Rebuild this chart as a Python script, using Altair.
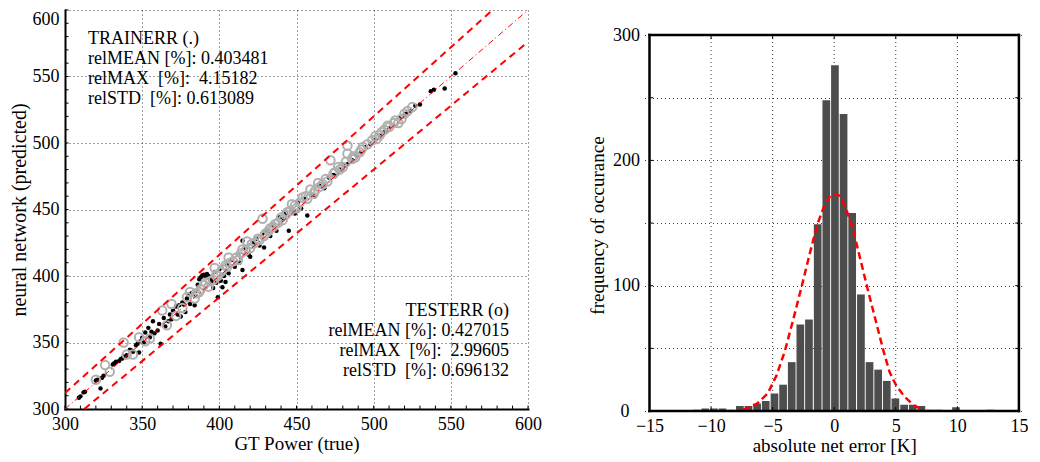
import altair as alt
import pandas as pd

FONT = "Liberation Serif"

# ---------------- left panel data (GT Power: true vs predicted) ----------------
train_true = [309, 310, 312, 313, 320, 321, 323, 324, 325, 331,
              332, 333, 335, 336, 337, 338, 339, 340, 342, 343,
              344, 346, 347, 348, 349, 350, 351, 352, 354, 355,
              356, 357, 358, 360, 361, 362, 364, 365, 367, 368,
              369, 370, 372, 373, 374, 375, 376, 377, 378, 379,
              380, 381, 382, 383, 384, 385, 386, 387, 388, 389,
              390, 391, 392, 393, 394, 395, 396, 397, 398, 399,
              400, 401, 402, 403, 404, 405, 406, 408, 410, 412,
              413, 415, 415, 417, 419, 420, 422, 424, 426, 428,
              429, 431, 433, 435, 437, 439, 441, 443, 445, 447,
              449, 451, 453, 455, 457, 459, 462, 465, 468, 471,
              474, 475, 478, 481, 483, 486, 489, 492, 495, 498,
              501, 504, 507, 510, 513, 517, 520, 521, 524, 527,
              530, 537, 539, 546, 553]
train_pred = [308.5, 309.5, 312.5, 313, 321.5, 322, 315.5, 323.5, 325, 333.5,
              334.5, 335.5, 336, 337.5, 338, 339.5, 339, 340.5, 344.5, 344,
              343, 348, 349, 342.5, 351, 353.5, 350, 357.5, 361, 354,
              358, 366, 357, 359, 364, 349, 368.5, 362, 366, 371,
              367.5, 374, 377, 371, 378, 369.5, 380, 378.5, 373, 383,
              386, 379, 387, 386, 378, 389, 393.5, 397.5, 399, 400.5,
              401, 399.5, 401.5, 400, 398, 396, 391, 403, 395, 384,
              405, 396.5, 391.5, 400, 395.5, 409, 402, 412, 407, 416,
              410, 404.5, 426.5, 421, 416, 414.5, 425, 428, 423, 432,
              421.5, 434, 430, 438, 434, 444, 443, 447, 434, 450,
              447, 455, 451, 458, 445.5, 462, 460, 468, 466, 474,
              476, 475, 480, 483, 484, 487, 491, 493, 497, 499,
              502, 505.5, 508, 511, 513, 519, 521, 522, 524, 528,
              529, 539, 540, 541, 552.5]

test_true = [320, 326, 329, 338, 340, 344, 348, 352, 355, 363,
             366, 369, 372, 376, 379, 381, 384, 387, 390, 393,
             396, 397, 399, 402, 405, 406, 409, 412, 415, 418,
             420, 423, 426, 428, 430, 432, 435, 438, 441, 444,
             447, 450, 454, 457, 459, 462, 464, 467, 470, 472,
             475, 478, 480, 483, 483, 486, 488, 491, 493, 496,
             499, 502, 505, 507, 510, 514, 516, 518, 522, 525,
             385, 388, 391, 394, 398, 401, 404, 407, 411, 414,
             417, 421, 425, 429, 433, 436, 440, 443, 446, 449,
             452, 456, 461, 465, 469, 474, 477, 482, 487, 492,
             501, 504, 509, 513, 520]
test_pred = [322, 333, 328, 350, 341, 341, 354, 351, 353, 374,
             363, 379, 370, 376, 384, 388, 383, 388, 393, 392,
             397, 406, 400, 405, 407, 414, 411, 412, 420, 426,
             421, 425, 427, 443, 432, 434, 437, 440, 442, 448,
             454, 451, 459, 458, 465, 464, 470, 469, 471, 487,
             478, 480, 482, 498, 492, 488, 489, 493, 497, 499,
             502, 503, 508, 510, 512, 517, 515, 518, 524, 527,
             387, 390, 395, 396, 401, 403, 408, 410, 414, 417,
             419, 424, 428, 430, 436, 439, 444, 446, 449, 453,
             455, 460, 462, 467, 473, 477, 482, 486, 490, 495,
             505, 506, 513, 515, 522]

diag_x = [300, 600]
diag_y = [300, 600]
upper_x = [300, 577]
upper_y = [312, 600]
lower_x = [312.5, 600]
lower_y = [300, 576]

train_text = ["TRAINERR (.)",
              "relMEAN [%]: 0.403481",
              "relMAX\u00a0\u00a0[%]:\u00a0\u00a04.15182",
              "relSTD\u00a0\u00a0[%]: 0.613089"]
test_text = ["TESTERR (o)",
             "relMEAN [%]: 0.427015",
             "relMAX\u00a0\u00a0[%]:\u00a0\u00a02.99605",
             "relSTD\u00a0\u00a0[%]: 0.696132"]

# ---------------- right panel data (error histogram) ----------------
hist_center = [-11.17, -10.47, -9.77, -9.07, -8.36, -7.66, -6.96, -6.26, -5.56, -4.85,
               -4.15, -3.45, -2.75, -2.05, -1.34, -0.64, 0.06, 0.76, 1.46, 2.17,
               2.87, 3.57, 4.27, 4.97, 5.68, 6.38, 7.08, 7.78, 8.48, 9.89, 12.70]
hist_count = [1, 2, 2, 2, 1, 4, 4, 6, 8, 14,
              21, 39, 69, 73, 149, 248, 276, 237, 158, 93,
              39, 33, 24, 10, 5, 5, 4, 1, 1, 3, 1]

gauss_x = [-7.4, -7.0, -6.3, -5.4, -4.7, -4.0, -3.3, -2.6, -2.0, -1.4, -0.8, -0.3, 0.05,
           0.4, 0.9, 1.5, 2.1, 2.7, 3.4, 4.0, 4.5, 5.0, 5.7, 6.5, 7.3]
gauss_y = [0.8, 2.5, 5.6, 14, 28, 48, 74, 101, 125, 148, 164, 172, 173,
           172, 163, 146, 122, 98, 71, 48, 31, 21, 11.5, 4.2, 0.8]

left_ticks = [300, 350, 400, 450, 500, 550, 600]
left_minor = list(range(300, 601, 10))
hist_x_ticks = [-15, -10, -5, 0, 5, 10, 15]
hist_y_ticks = [0, 50, 100, 150, 200, 250, 300]

GRID = dict(grid=True, gridDash=[1, 3], gridColor="#3a3a3a", gridWidth=1, gridOpacity=1)
LABEL = dict(labelFont=FONT, labelFontSize=18, labelColor="black")
TITLE = dict(titleFont=FONT, titleFontWeight="normal", titleColor="black")

# ================= left chart =================
xs = alt.Scale(domain=[300, 600], nice=False, zero=False)
ys = alt.Scale(domain=[300, 600], nice=False, zero=False)
x_axis_l = alt.Axis(values=left_ticks, ticks=False, domain=True, domainColor="black",
                    domainWidth=2, domainCap="square", labelFlush=False, labelPadding=6,
                    title="GT Power (true)", titlePadding=1, titleFontSize=19,
                    **GRID, **LABEL, **TITLE)
y_axis_l = alt.Axis(values=left_ticks, ticks=False, domain=True, domainColor="black",
                    domainWidth=2, domainCap="square", labelFlush=False, labelPadding=6,
                    labelBaseline={"condition": {"test": "datum.value == 600", "value": "top"},
                                   "value": "middle"},
                    title="neural network (predicted)", titlePadding=3, titleFontSize=20,
                    **GRID, **LABEL, **TITLE)


def LX(f):
    return alt.X(f"{f}:Q", scale=xs, axis=x_axis_l)


def LY(f):
    return alt.Y(f"{f}:Q", scale=ys, axis=y_axis_l)


train_df = pd.DataFrame({"x": train_true, "y": train_pred})
test_df = pd.DataFrame({"x": test_true, "y": test_pred})
band_df = pd.DataFrame({"x": upper_x + lower_x, "y": upper_y + lower_y,
                        "k": ["upper"] * 2 + ["lower"] * 2})
diag_df = pd.DataFrame({"x": diag_x, "y": diag_y})
minor_df = pd.DataFrame({"x": left_minor, "y": left_minor})

xticks_l = alt.Chart(minor_df).mark_rule(color="black", strokeWidth=1).encode(
    x=LX("x"), y=alt.datum(300), y2=alt.datum(302.6))
yticks_l = alt.Chart(minor_df).mark_rule(color="black", strokeWidth=1).encode(
    y=LY("y"), x=alt.datum(300), x2=alt.datum(302.3))

train_pts = alt.Chart(train_df).mark_circle(size=20, color="black", opacity=1).encode(
    x=LX("x"), y=LY("y"))
test_pts = alt.Chart(test_df).mark_point(size=72, filled=False, color="#b0b0b0",
                                         strokeWidth=2, opacity=1).encode(x=LX("x"), y=LY("y"))
bands = alt.Chart(band_df).mark_line(color="#ff0000", strokeWidth=2, strokeDash=[7, 5],
                                     clip=True).encode(x=LX("x"), y=LY("y"), detail="k:N")
diag = alt.Chart(diag_df).mark_line(color="#ff0000", strokeWidth=1, strokeDash=[6, 3, 1, 3],
                                    clip=True).encode(x=LX("x"), y=LY("y"))

note_base = alt.Chart(pd.DataFrame({"a": [0]}))
train_note = note_base.mark_text(text=train_text, align="left", baseline="top", font=FONT,
                                 fontSize=18, lineHeight=20, color="black").encode(
    x=alt.value(23), y=alt.value(20))
test_note = note_base.mark_text(text=test_text, align="right", baseline="top", font=FONT,
                                fontSize=18, lineHeight=20, color="black").encode(
    x=alt.value(444), y=alt.value(292))

left = alt.layer(xticks_l, yticks_l, train_pts, test_pts, bands, diag,
                 train_note, test_note).properties(width=463, height=399)

# ================= right chart =================
hxs = alt.Scale(domain=[-15, 15], nice=False, zero=False)
hys = alt.Scale(domain=[0, 320], nice=False, zero=True)
x_axis_r = alt.Axis(values=hist_x_ticks, grid=False, ticks=False, domain=False,
                    labelFlush=False, labelPadding=6, title="absolute net error [K]",
                    titlePadding=1, titleFontSize=19, **LABEL, **TITLE)
y_axis_r = alt.Axis(values=hist_y_ticks, ticks=False, domain=False, labelPadding=5,
                    labelExpr="datum.value % 100 == 0 && datum.value > 0 ? datum.label : ''",
                    title="frequency of occurance", titlePadding=5, titleY=215, titleFontSize=19,
                    **GRID, **LABEL, **TITLE)


def RX(f):
    return alt.X(f"{f}:Q", scale=hxs, axis=x_axis_r)


def RY(f):
    return alt.Y(f"{f}:Q", scale=hys, axis=y_axis_r)


hist_df = pd.DataFrame({"c": hist_center, "n": hist_count})
gauss_df = pd.DataFrame({"c": gauss_x, "n": gauss_y})
vgrid_df = pd.DataFrame({"c": [-10, -5, 0, 5, 10]})
xt_df = pd.DataFrame({"c": hist_x_ticks})
yt_df = pd.DataFrame({"n": hist_y_ticks})

vgrid = alt.Chart(vgrid_df).mark_rule(color="#3a3a3a", strokeWidth=1, strokeDash=[1, 3]).encode(
    x=RX("c"), y=alt.datum(0), y2=alt.datum(300))
bars = alt.Chart(hist_df).mark_bar(size=7.7, color="#4d4d4d").encode(x=RX("c"), y=RY("n"))
gauss = alt.Chart(gauss_df).mark_line(color="#ff0000", strokeWidth=2.5,
                                      strokeDash=[7, 4]).encode(x=RX("c"), y=RY("n"))

one = alt.Chart(pd.DataFrame({"a": [0]}))
FR = dict(color="black", strokeWidth=2.5, strokeCap="square")
frame_b = one.mark_rule(**FR).encode(x=alt.datum(-15), x2=alt.datum(15), y=alt.datum(0))
frame_t = one.mark_rule(**FR).encode(x=alt.datum(-15), x2=alt.datum(15), y=alt.datum(300))
frame_l = one.mark_rule(**FR).encode(x=alt.datum(-15), y=alt.datum(0), y2=alt.datum(300))
frame_r = one.mark_rule(**FR).encode(x=alt.datum(15), y=alt.datum(0), y2=alt.datum(300))

# the zero label of the count axis sits a little left of the others (as in the original)
zero_label = one.mark_text(text="0", align="right", baseline="middle", font=FONT,
                           fontSize=18, color="black", dy=1).encode(
    x=alt.value(-15), y=alt.datum(0))

tk = dict(color="black", strokeWidth=1)
ytick_l = alt.Chart(yt_df).mark_rule(**tk).encode(y=RY("n"), x=alt.datum(-15), x2=alt.datum(-14.7))
ytick_r = alt.Chart(yt_df).mark_rule(**tk).encode(y=RY("n"), x=alt.datum(15), x2=alt.datum(14.7))
xtick_b = alt.Chart(xt_df).mark_rule(**tk).encode(x=RX("c"), y=alt.datum(0), y2=alt.datum(3.2))
xtick_t = alt.Chart(xt_df).mark_rule(**tk).encode(x=RX("c"), y=alt.datum(300), y2=alt.datum(296.8))

right = alt.layer(vgrid, bars, gauss, ytick_l, ytick_r, xtick_b, xtick_t,
                  frame_b, frame_t, frame_l, frame_r, zero_label).properties(width=379.4, height=401)

chart = alt.hconcat(left, right, spacing=46.5).properties(
    padding={"left": 1, "top": 1, "right": 0, "bottom": 0}
).configure_view(strokeWidth=0)

chart.save("out.html", embed_options={"renderer": "svg", "actions": False})
